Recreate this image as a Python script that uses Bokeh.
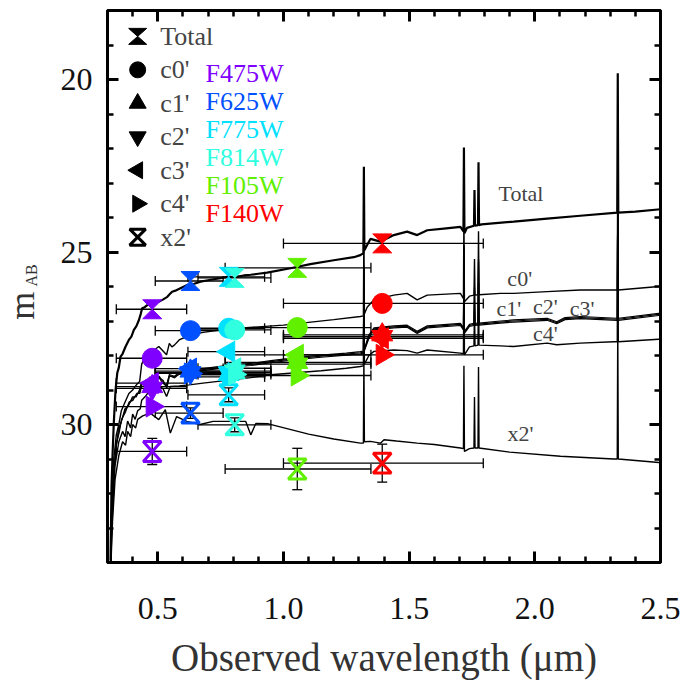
import math
from bokeh.plotting import figure
from bokeh.layouts import row
from bokeh.models import (Range1d, LinearAxis, SingleIntervalTicker, PrintfTickFormatter,
                          Label, ColumnDataSource, Whisker, TeeHead, CustomLabelingPolicy)
from bokeh.embed import file_html
from bokeh.resources import INLINE

# ---------------- data ----------------
filters = ["F475W", "F625W", "F775W", "F814W", "F105W", "F140W"]
filter_colors = ["#8000ff", "#0050ff", "#00e0ff", "#30ffe0", "#60f000", "#ff0000"]
filter_wave = [0.478, 0.630, 0.782, 0.806, 1.055, 1.393]
filter_lo = [0.335, 0.490, 0.620, 0.660, 0.768, 1.000]
filter_hi = [0.615, 0.760, 0.925, 0.950, 1.348, 1.795]

phot_total = [26.66, 25.84, 25.72, 25.75, 25.46, 24.75]
phot_c0 = [28.08, 27.28, 27.21, 27.26, 27.19, 26.49]
phot_c1 = [28.90, 28.45, 28.55, 28.50, 28.20, 27.40]
phot_c2 = [28.95, 28.50, 28.50, 28.45, 28.25, 27.45]
phot_c3 = [28.80, 28.38, 27.89, 28.37, 27.98, 27.50]
phot_c4 = [29.48, 28.52, 28.62, 28.55, 28.58, 27.98]
phot_x2 = [30.78, 29.67, 29.14, 30.01, 31.29, 31.12]
err_x2 = [0.38, 0.15, 0.20, 0.20, 0.60, 0.55]

spec_total = [(0.312, 33.95), (0.316, 31.80), (0.320, 30.90), (0.325, 29.96), (0.332, 29.00),
              (0.339, 28.50), (0.345, 28.35), (0.352, 28.03), (0.360, 27.95), (0.372, 27.74),
              (0.385, 27.55), (0.395, 27.45), (0.405, 27.26), (0.415, 27.15), (0.425, 26.97),
              (0.432, 26.80), (0.438, 26.63), (0.448, 26.60), (0.458, 26.54), (0.470, 26.50),
              (0.485, 26.48), (0.504, 26.44), (0.520, 26.38), (0.538, 26.30), (0.548, 26.22),
              (0.557, 26.15), (0.570, 26.12), (0.590, 26.05), (0.617, 25.96), (0.645, 25.92),
              (0.670, 25.86), (0.700, 25.82), (0.723, 25.79), (0.750, 25.76), (0.776, 25.72),
              (0.810, 25.72), (0.842, 25.68), (0.870, 25.66), (0.900, 25.63), (0.935, 25.60),
              (1.028, 25.47), (1.107, 25.35), (1.200, 25.24), (1.280, 25.15), (1.306, 25.09),
              (1.318, 25.03), (1.320, 22.53), (1.322, 24.95), (1.333, 24.80), (1.346, 24.62),
              (1.386, 24.70), (1.439, 24.51), (1.492, 24.41), (1.532, 24.51), (1.572, 24.37),
              (1.638, 24.32), (1.704, 24.27), (1.716, 24.40), (1.718, 21.97), (1.720, 24.46),
              (1.730, 24.30), (1.758, 24.24), (1.760, 23.20), (1.762, 24.24), (1.774, 24.22),
              (1.776, 22.40), (1.778, 24.22), (1.788, 24.20), (1.916, 24.12), (2.049, 24.03),
              (2.181, 23.95), (2.328, 23.86), (2.330, 19.82), (2.332, 23.86), (2.400, 23.83),
              (2.500, 23.76)]

spec_c0 = [(0.313, 34.0), (0.318, 32.2), (0.325, 31.0), (0.335, 30.3), (0.345, 30.0), (0.355, 29.6),
           (0.370, 29.35), (0.385, 29.1), (0.400, 29.0), (0.415, 28.85), (0.428, 28.75), (0.436, 28.25),
           (0.450, 28.05), (0.470, 27.92), (0.490, 27.82), (0.504, 27.74), (0.520, 27.86), (0.535, 27.98),
           (0.546, 27.65), (0.556, 27.75), (0.566, 27.70), (0.585, 27.55), (0.625, 27.42), (0.680, 27.33),
           (0.740, 27.27), (0.800, 27.22), (0.900, 27.17), (1.000, 27.12), (1.100, 27.04), (1.200, 26.96),
           (1.306, 26.87), (1.318, 26.85), (1.320, 24.30), (1.322, 26.80), (1.333, 26.60), (1.359, 26.39),
           (1.439, 26.25), (1.492, 26.20), (1.532, 26.39), (1.572, 26.25), (1.704, 26.20), (1.716, 26.35),
           (1.718, 23.90), (1.720, 26.44), (1.740, 26.28), (1.758, 26.25), (1.760, 25.20), (1.762, 26.25),
           (1.774, 26.24), (1.776, 24.40), (1.778, 26.24), (1.863, 26.20), (1.916, 26.20), (2.049, 26.15),
           (2.181, 26.10), (2.328, 26.10), (2.330, 22.10), (2.332, 26.10), (2.493, 26.00), (2.500, 25.99)]

spec_c1 = [(0.313, 34.0), (0.318, 32.6), (0.325, 31.4), (0.335, 30.6), (0.345, 30.2), (0.355, 29.9),
           (0.370, 29.6), (0.385, 29.4), (0.400, 29.25), (0.415, 29.15), (0.428, 29.05), (0.436, 28.80),
           (0.450, 28.75), (0.470, 28.65), (0.490, 28.70), (0.505, 28.60), (0.520, 28.75), (0.535, 28.90),
           (0.546, 28.55), (0.566, 28.60), (0.585, 28.50), (0.625, 28.45), (0.680, 28.38), (0.740, 28.32),
           (0.800, 28.27), (0.870, 28.23), (0.950, 28.15), (1.050, 28.06), (1.150, 27.99), (1.250, 27.93),
           (1.306, 27.89), (1.318, 27.87), (1.320, 25.40), (1.322, 27.80), (1.340, 27.40), (1.360, 27.20),
           (1.439, 27.14), (1.492, 27.12), (1.532, 27.30), (1.572, 27.14), (1.704, 27.07), (1.716, 27.20),
           (1.718, 24.80), (1.720, 27.30), (1.740, 27.10), (1.758, 27.07), (1.760, 26.00), (1.762, 27.07),
           (1.774, 27.06), (1.776, 25.20), (1.778, 27.06), (1.863, 27.00), (1.916, 26.97), (2.049, 26.92),
           (2.087, 27.02), (2.120, 26.90), (2.181, 26.87), (2.328, 26.92), (2.330, 23.00), (2.332, 26.92),
           (2.493, 26.78), (2.500, 26.78)]

spec_c2 = [(0.313, 34.0), (0.319, 32.4), (0.326, 31.3), (0.336, 30.55), (0.346, 30.25), (0.356, 29.85),
           (0.371, 29.65), (0.386, 29.35), (0.401, 29.3), (0.416, 29.1), (0.429, 29.1), (0.437, 28.85),
           (0.451, 28.72), (0.471, 28.70), (0.491, 28.66), (0.506, 28.65), (0.521, 28.72), (0.536, 28.95),
           (0.547, 28.58), (0.567, 28.65), (0.586, 28.52), (0.625, 28.48), (0.680, 28.41), (0.740, 28.35),
           (0.800, 28.30), (0.870, 28.26), (0.950, 28.18), (1.050, 28.09), (1.150, 28.02), (1.250, 27.96),
           (1.306, 27.92), (1.318, 27.90), (1.320, 25.45), (1.322, 27.83), (1.340, 27.45), (1.360, 27.23),
           (1.439, 27.17), (1.492, 27.15), (1.532, 27.33), (1.572, 27.17), (1.704, 27.10), (1.716, 27.23),
           (1.718, 24.85), (1.720, 27.33), (1.740, 27.13), (1.758, 27.10), (1.760, 26.05), (1.762, 27.10),
           (1.774, 27.09), (1.776, 25.25), (1.778, 27.09), (1.863, 27.03), (1.916, 27.00), (2.049, 26.95),
           (2.087, 27.05), (2.120, 26.93), (2.181, 26.90), (2.328, 26.95), (2.330, 23.05), (2.332, 26.95),
           (2.493, 26.81), (2.500, 26.81)]

spec_c3 = [(0.313, 34.0), (0.317, 32.8), (0.324, 31.5), (0.334, 30.7), (0.344, 30.1), (0.354, 29.95),
           (0.369, 29.55), (0.384, 29.45), (0.399, 29.2), (0.414, 29.2), (0.427, 29.0), (0.435, 28.78),
           (0.449, 28.80), (0.469, 28.62), (0.489, 28.75), (0.504, 28.62), (0.519, 28.80), (0.534, 28.88),
           (0.545, 28.60), (0.565, 28.62), (0.584, 28.55), (0.625, 28.50), (0.680, 28.44), (0.740, 28.38),
           (0.800, 28.33), (0.870, 28.29), (0.950, 28.21), (1.050, 28.12), (1.150, 28.05), (1.250, 27.99),
           (1.306, 27.95), (1.318, 27.93), (1.320, 25.50), (1.322, 27.86), (1.340, 27.50), (1.360, 27.26),
           (1.439, 27.20), (1.492, 27.18), (1.532, 27.36), (1.572, 27.20), (1.704, 27.13), (1.716, 27.26),
           (1.718, 24.90), (1.720, 27.36), (1.740, 27.16), (1.758, 27.13), (1.760, 26.10), (1.762, 27.13),
           (1.774, 27.12), (1.776, 25.30), (1.778, 27.12), (1.863, 27.06), (1.916, 27.03), (2.049, 26.98),
           (2.087, 27.08), (2.120, 26.96), (2.181, 26.93), (2.328, 26.98), (2.330, 23.10), (2.332, 26.98),
           (2.493, 26.84), (2.500, 26.84)]

spec_c4 = [(0.313, 34.0), (0.320, 32.5), (0.330, 31.2), (0.345, 30.5), (0.360, 30.2), (0.370, 30.35),
           (0.380, 29.9), (0.392, 30.1), (0.400, 29.7), (0.410, 29.85), (0.420, 29.6), (0.430, 29.55),
           (0.436, 29.30), (0.450, 29.19), (0.470, 29.00), (0.490, 29.05), (0.504, 28.90), (0.520, 28.95),
           (0.535, 29.19), (0.550, 28.90), (0.585, 28.88), (0.625, 28.85), (0.680, 28.80), (0.740, 28.75),
           (0.800, 28.70), (0.870, 28.64), (0.950, 28.56), (1.050, 28.50), (1.150, 28.44), (1.250, 28.37),
           (1.306, 28.32), (1.318, 28.30), (1.320, 25.90), (1.322, 28.25), (1.340, 28.00), (1.360, 27.88),
           (1.439, 27.84), (1.492, 27.86), (1.532, 27.93), (1.572, 27.84), (1.704, 27.93), (1.716, 27.95),
           (1.718, 25.60), (1.720, 27.98), (1.740, 27.75), (1.758, 27.72), (1.760, 26.70), (1.762, 27.72),
           (1.774, 27.70), (1.776, 25.90), (1.778, 27.70), (1.863, 27.72), (1.916, 27.74), (2.049, 27.64),
           (2.087, 27.69), (2.181, 27.64), (2.314, 27.60), (2.328, 27.60), (2.330, 23.70), (2.332, 27.60),
           (2.493, 27.53), (2.500, 27.53)]

spec_x2 = [(0.314, 34.0), (0.320, 32.8), (0.330, 31.6), (0.345, 30.9), (0.360, 30.5), (0.372, 30.6),
           (0.380, 30.2), (0.392, 30.35), (0.400, 30.0), (0.412, 30.1), (0.420, 29.85), (0.440, 29.75),
           (0.470, 29.67), (0.504, 29.86), (0.530, 29.57), (0.550, 30.25), (0.575, 29.77), (0.615, 29.91),
           (0.668, 30.00), (0.720, 29.91), (0.780, 29.91), (0.850, 29.91), (0.870, 30.30), (0.890, 29.97),
           (0.940, 29.98), (1.100, 30.28), (1.200, 30.42), (1.306, 30.54), (1.318, 30.54), (1.320, 28.10),
           (1.322, 30.50), (1.346, 30.49), (1.386, 30.54), (1.400, 30.44), (1.450, 30.48), (1.532, 30.54),
           (1.600, 30.58), (1.704, 30.68), (1.716, 30.70), (1.718, 28.30), (1.720, 30.78), (1.740, 30.70),
           (1.758, 30.68), (1.760, 29.20), (1.762, 30.68), (1.774, 30.68), (1.776, 28.33), (1.778, 30.68),
           (1.900, 30.80), (2.102, 30.92), (2.314, 31.00), (2.328, 31.00), (2.330, 27.00), (2.332, 31.00),
           (2.493, 31.10), (2.500, 31.10)]

legend_names = ["Total", "c0'", "c1'", "c2'", "c3'", "c4'", "x2'"]
curve_labels = [("Total", 1.945, 23.31), ("c0'", 1.94, 25.76), ("c1'", 1.897, 26.63),
                ("c2'", 2.042, 26.58), ("c3'", 2.188, 26.63), ("c4'", 2.042, 27.36), ("x2'", 1.943, 30.25)]

# ---------------- layout constants ----------------
X0, X1 = 0.3, 2.5
Y0, Y1 = 34.0, 18.0
FRAME = 553
W_TOTAL, H_TOTAL = 681, 681
W_LEFT = 45            # narrow panel that carries the y-axis title
BORDER_LEFT = 107      # frame left edge
BORDER_TOP = 10
BORDER_BOTTOM = H_TOTAL - BORDER_TOP - FRAME
SERIF = "Liberation Serif"
GREY = "#444444"
DARK = "#333333"

p = figure(width=W_TOTAL - W_LEFT, height=H_TOTAL, x_range=Range1d(X0, X1), y_range=Range1d(Y0, Y1),
           output_backend="svg", toolbar_location=None,
           min_border_left=BORDER_LEFT - W_LEFT, min_border_right=W_TOTAL - BORDER_LEFT - FRAME,
           min_border_top=BORDER_TOP, min_border_bottom=BORDER_BOTTOM)
p.grid.visible = False
p.outline_line_color = "black"
p.outline_line_width = 3
p.background_fill_color = "white"

bottom_ax = p.below[0]
left_ax = p.left[0]

xt = SingleIntervalTicker(interval=0.5, num_minor_ticks=5)
yt = SingleIntervalTicker(interval=5, num_minor_ticks=5)
bottom_ax.ticker = xt
left_ax.ticker = yt
bottom_ax.formatter = PrintfTickFormatter(format="%.1f")

top_ax = LinearAxis(ticker=xt, major_label_policy=CustomLabelingPolicy(code="return []"))
right_ax = LinearAxis(ticker=yt, major_label_policy=CustomLabelingPolicy(code="return []"))
p.add_layout(top_ax, "above")
p.add_layout(right_ax, "right")

for ax in [bottom_ax, left_ax, top_ax, right_ax]:
    ax.axis_line_width = 3
    ax.axis_line_color = "black"
    ax.major_tick_line_width = 3
    ax.minor_tick_line_width = 2.5
    ax.major_tick_in = 11
    ax.major_tick_out = 0
    ax.minor_tick_in = 6
    ax.minor_tick_out = 0
    ax.major_label_text_font = SERIF
    ax.major_label_text_font_size = "32px"
    ax.major_label_text_color = "#111111"
for ax in [top_ax, right_ax]:
    ax.major_label_text_font_size = "1px"
    ax.major_label_standoff = 0

bottom_ax.major_label_standoff = 35
left_ax.major_label_standoff = 15
bottom_ax.axis_label = "Observed wavelength (\u03bcm)"
bottom_ax.axis_label_text_font = SERIF
bottom_ax.axis_label_text_font_size = "39px"
bottom_ax.axis_label_text_font_style = "normal"
bottom_ax.axis_label_text_color = DARK
bottom_ax.axis_label_standoff = 14

# ---------------- spectra ----------------
for spec, lw in [(spec_x2, 1.4), (spec_c4, 1.4), (spec_c3, 1.2), (spec_c2, 1.2), (spec_c1, 1.2),
                 (spec_c0, 1.4), (spec_total, 2.2)]:
    lam = [s[0] for s in spec]
    mag = [s[1] for s in spec]
    p.line(lam, mag, line_color="black", line_width=lw)

# ---------------- error bars ----------------
comp_phot = [phot_total, phot_c0, phot_c1, phot_c2, phot_c3, phot_c4, phot_x2]
blo, bhi, bm = [], [], []
for phot in comp_phot:
    for i in range(len(filters)):
        bm.append(phot[i]); blo.append(filter_lo[i]); bhi.append(filter_hi[i])
hsrc = ColumnDataSource(dict(m=bm, lo=blo, hi=bhi))
p.add_layout(Whisker(base="m", lower="lo", upper="hi", dimension="width", source=hsrc,
                     line_color="black", line_width=1.3,
                     upper_head=TeeHead(size=10, line_color="black", line_width=1.3),
                     lower_head=TeeHead(size=10, line_color="black", line_width=1.3)))
vsrc = ColumnDataSource(dict(x=filter_wave,
                             lo=[m - e for m, e in zip(phot_x2, err_x2)],
                             hi=[m + e for m, e in zip(phot_x2, err_x2)]))
p.add_layout(Whisker(base="x", lower="lo", upper="hi", dimension="height", source=vsrc,
                     line_color="black", line_width=1.3,
                     upper_head=TeeHead(size=10, line_color="black", line_width=1.3),
                     lower_head=TeeHead(size=10, line_color="black", line_width=1.3)))

# ---------------- markers ----------------
dxp = (X1 - X0) / FRAME
dyp = (Y0 - Y1) / FRAME


def hourglass(xc, yc, hw, hh):
    w, h = hw * dxp, hh * dyp
    return ([xc - w, xc + w, xc, xc + w, xc - w, xc],
            [yc - h, yc - h, yc, yc + h, yc + h, yc])


def hourglasses(xs_c, ys_c, hw, hh):
    xs, ys = [], []
    for xc, yc in zip(xs_c, ys_c):
        a, b = hourglass(xc, yc, hw, hh)
        xs.append(a); ys.append(b)
    return xs, ys


hx, hy = hourglasses(filter_wave, phot_total, 9.5, 9.5)
p.patches(hx, hy, fill_color=filter_colors, line_color=filter_colors, line_width=1)
ox, oy = hourglasses(filter_wave, phot_x2, 9, 10)
p.patches(ox, oy, fill_alpha=0, line_color=filter_colors, line_width=3)

p.scatter(filter_wave, phot_c0, marker="circle", size=20, color=filter_colors)
p.scatter(filter_wave, phot_c1, marker="triangle", size=21, color=filter_colors)
p.scatter(filter_wave, phot_c2, marker="inverted_triangle", size=21, color=filter_colors)
p.scatter(filter_wave, phot_c3, marker="triangle", angle=math.pi / 2, size=21, color=filter_colors)
p.scatter(filter_wave, phot_c4, marker="triangle", angle=-math.pi / 2, size=21, color=filter_colors)

# ---------------- legend (manual) ----------------
leg_x = X0 + 0.12
leg_tx = X0 + 0.21
leg_y = [Y1 + 0.75 + 0.97 * i for i in range(len(legend_names))]
lx, ly = hourglasses([leg_x], [leg_y[0]], 9, 8)
p.patches(lx, ly, fill_color="black", line_color="black")
p.scatter([leg_x], [leg_y[1]], marker="circle", size=16, color="black")
p.scatter([leg_x], [leg_y[2]], marker="triangle", size=17, color="black")
p.scatter([leg_x], [leg_y[3]], marker="inverted_triangle", size=17, color="black")
p.scatter([leg_x], [leg_y[4]], marker="triangle", angle=math.pi / 2, size=17, color="black")
p.scatter([leg_x], [leg_y[5]], marker="triangle", angle=-math.pi / 2, size=17, color="black")
lx, ly = hourglasses([leg_x], [leg_y[6]], 8, 8)
p.patches(lx, ly, fill_alpha=0, line_color="black", line_width=3)
for name, yy in zip(legend_names, leg_y):
    p.add_layout(Label(x=leg_tx, y=yy, text=name, text_font=SERIF, text_font_size="26px",
                       text_color=GREY, text_baseline="middle", text_align="left"))

filt_x = X0 + 0.39
for i, (name, col) in enumerate(zip(filters, filter_colors)):
    p.add_layout(Label(x=filt_x, y=Y1 + 1.82 + 0.81 * i, text=name, text_font=SERIF,
                       text_font_size="26px", text_color=col, text_baseline="middle",
                       text_align="left"))

for name, lx_, ly_ in curve_labels:
    p.add_layout(Label(x=lx_, y=ly_, text=name, text_font=SERIF, text_font_size="22px",
                       text_color=GREY, text_baseline="middle", text_align="center"))

# ---------------- y-axis title panel (m with subscript AB) ----------------
side = figure(width=W_LEFT, height=H_TOTAL, x_range=Range1d(0, W_LEFT), y_range=p.y_range,
              output_backend="svg", toolbar_location=None, x_axis_location=None,
              y_axis_location=None, min_border_left=0, min_border_right=0,
              min_border_top=BORDER_TOP, min_border_bottom=BORDER_BOTTOM)
side.grid.visible = False
side.outline_line_color = None
side.add_layout(Label(x=21, y=26.56, text="m", angle=math.pi / 2, text_font=SERIF,
                      text_font_size="36px", text_align="center", text_baseline="middle",
                      text_color=DARK))
side.add_layout(Label(x=31, y=25.68, text="AB", angle=math.pi / 2, text_font=SERIF,
                      text_font_size="16px", text_align="center", text_baseline="middle",
                      text_color=DARK))

layout = row(side, p)
open("out.html", "w").write(file_html(layout, INLINE))
